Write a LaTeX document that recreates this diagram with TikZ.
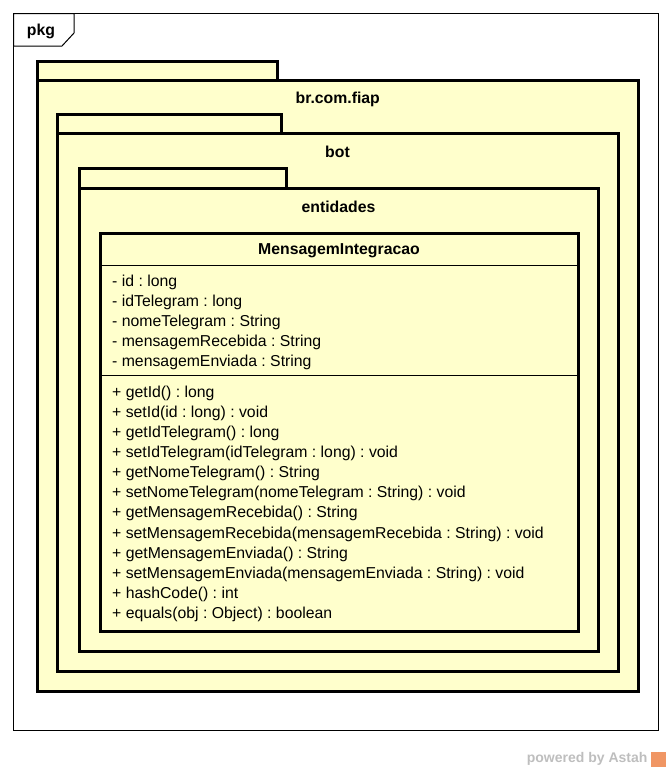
\documentclass[tikz,border=0pt]{standalone}
\usepackage{fontspec}
\setmainfont{Liberation Sans}
\frenchspacing
\usetikzlibrary{positioning}
\definecolor{pkgfill}{RGB}{255,255,204}
\definecolor{markc}{RGB}{190,190,190}
\definecolor{logoc}{RGB}{240,150,100}

\begin{document}
\begin{tikzpicture}[x=1pt, y=-1pt, every node/.style={font=\fontsize{15.8}{18}\selectfont},
  frame/.style={rectangle, draw, line width=1pt, anchor=north west, inner sep=0pt, outer sep=0pt},
  pkgtab/.style={rectangle, draw, fill=pkgfill, line width=3pt, anchor=north west, inner sep=0pt, outer sep=0pt},
  pkgbody/.style={pkgtab},
  pkglabel/.style={font=\fontsize{15.8}{18}\selectfont\bfseries},
  member/.style={anchor=west, inner sep=0pt}]

    \useasboundingbox (0,0) rectangle (672,772);

    \node[frame, minimum width=645pt, minimum height=717pt] (frame) at (13.5,13.5) {};
    \draw[line width=1pt, fill=white] (frame.north west) -- ++(60.5,0) -- ++(0,19.5) -- ++(-12,13) -- (frame.west |- 0,46) -- cycle;
    \node[pkglabel] (pkg) at (41,31) {pkg};

    \node[pkgtab, minimum width=240pt, minimum height=19pt] (fiaptab) at (37.5,61.5) {};
    \node[pkgbody, minimum width=600.5pt, minimum height=610.5pt] (fiap) at (37.5,80.5) {};
    \node[pkglabel] (fiaplabel) at ([yshift=-18.5pt]fiap.north) {br.com.fiap};

    \node[pkgtab, minimum width=224.5pt, minimum height=19pt] (bottab) at (57,114.5) {};
    \node[pkgbody, minimum width=561pt, minimum height=538pt] (bot) at (57,133.5) {};
    \node[pkglabel] (botlabel) at ([yshift=-18.5pt]bot.north) {bot};

    \node[pkgtab, minimum width=207.5pt, minimum height=20pt] (enttab) at (79,168.5) {};
    \node[pkgbody, minimum width=519pt, minimum height=463pt] (ent) at (79,188.5) {};
    \node[pkglabel] (entlabel) at ([yshift=-18.5pt]ent.north) {entidades};

    \node[pkgbody, minimum width=478pt, minimum height=398pt] (msg) at (100,233.5) {};
    \node[pkglabel] (msgname) at ([yshift=-17.5pt]msg.north) {MensagemIntegracao};
    \draw[line width=1pt] (msg.west |- 0,265) -- (msg.east |- 0,265);
    \draw[line width=1pt] (msg.west |- 0,375) -- (msg.east |- 0,375);

    \foreach \t [count=\i from 0] in {- id : long, - idTelegram : long, - nomeTelegram : String,
      - mensagemRecebida : String, - mensagemEnviada : String}
      \node[member] (attr\i) at (112,{282+20*\i}) {\t};

    \foreach \t [count=\i from 0] in {+ getId() : long, + setId(id : long) : void,
      + getIdTelegram() : long, + setIdTelegram(idTelegram : long) : void,
      + getNomeTelegram() : String, + setNomeTelegram(nomeTelegram : String) : void,
      + getMensagemRecebida() : String, + setMensagemRecebida(mensagemRecebida : String) : void,
      + getMensagemEnviada() : String, + setMensagemEnviada(mensagemEnviada : String) : void,
      + hashCode() : int, + equals(obj : Object) : boolean}
      \node[member] (op\i) at (112,{393+20.15*\i}) {\t};

    \node[anchor=east, text=markc, font=\fontsize{14}{16}\selectfont\bfseries] (powered) at (651,759) {powered by Astah};
    \node[fill=logoc, minimum size=15pt, inner sep=0pt, anchor=west] (logo) at (powered.east) {};

  \end{tikzpicture}
\end{document}
